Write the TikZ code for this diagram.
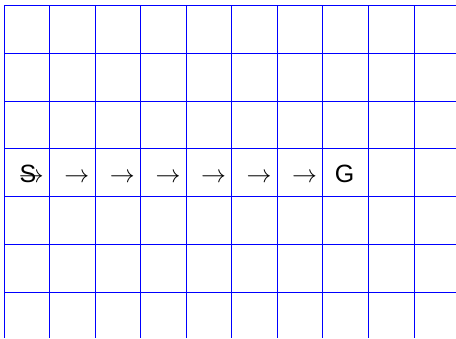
\documentclass[tikz,border=0pt]{standalone}
\usepackage{fontspec}
\setmainfont{Liberation Sans}
\begin{document}
\begin{tikzpicture}[x=1pt,y=-1pt,
  gridline/.style={blue,line width=0.8pt},
  cell/.style={inner sep=0pt,anchor=base,font=\fontsize{25}{30}\selectfont},
  arr/.style={cell}]
\useasboundingbox (0,0) rectangle (456,338);
\begin{scope}
\clip (0,0) rectangle (456,338);
\foreach \i in {0,...,9} {
  \draw[gridline] ({4+45.55*\i},5) -- ({4+45.55*\i},338);
}
\foreach \j in {0,...,6} {
  \draw[gridline] (4,{5+47.95*\j}) -- (456,{5+47.95*\j});
}
\end{scope}
\node[cell] (S) at (28,182) {S};
\foreach \i in {1,...,7} {
  \node[arr] (a\i) at ({4+45.55*(\i-1)+27.3},182) {$\rightarrow$};
}
\node[cell] (G) at (344.5,182) {G};
\end{tikzpicture}
\end{document}
